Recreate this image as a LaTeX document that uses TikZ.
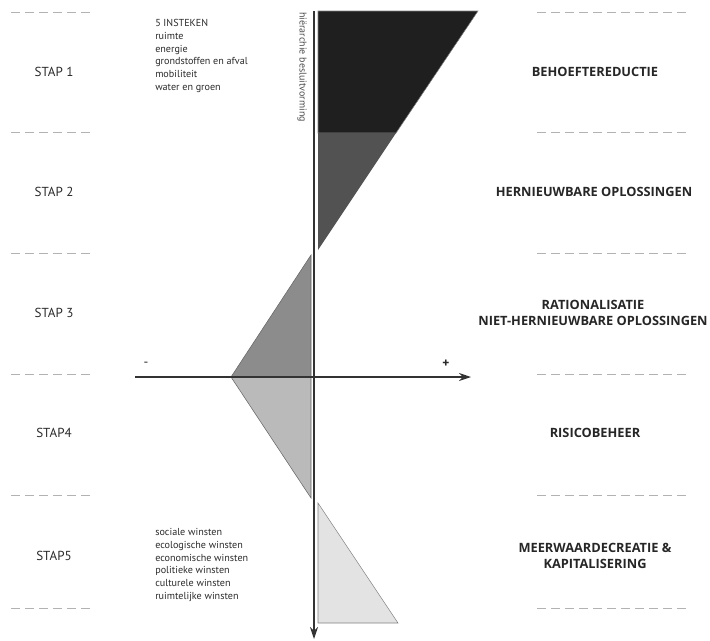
\documentclass[tikz,border=0pt]{standalone}
\usepackage{fontspec}
\setmainfont{PT Sans}
\newfontfamily\fasefont{Open Sans}
\usetikzlibrary{arrows.meta}
\definecolor{txtgray}{HTML}{2A2A2A}
\tikzset{
  sep/.style={draw=black!30, line width=0.6pt, dash pattern=on 6.5pt off 4pt},
  stap/.style={text=txtgray, font=\fontsize{9.8}{11}\selectfont},
  fase/.style={text=black!85, font=\fasefont\bfseries\fontsize{9.6}{12.3}\selectfont, align=center},
  lijst/.style={text=txtgray, font=\fontsize{7.6}{9.6}\selectfont, align=left, anchor=north west, inner sep=0pt},
  as/.style={draw=black!80, line width=0.9pt, -{Stealth[length=9pt,width=6pt]}}
}
\begin{document}
\begin{tikzpicture}[x=0.75pt,y=-0.75pt]
\useasboundingbox (0,0) rectangle (710,640);
\foreach \y in {12,132,253,374,495,608} {
  \draw[sep] (11,\y) -- (90,\y);
  \draw[sep] (537,\y) -- (690,\y);
}
\node[stap] (s1) at (54,72) {STAP 1};
\node[stap] (s2) at (54,192) {STAP 2};
\node[stap] (s3) at (54,313) {STAP 3};
\node[stap] (s4) at (54,433) {STAP4};
\node[stap] (s5) at (54,556) {STAP5};
\node[fase] (f1) at (595,72) {BEHOEFTEREDUCTIE};
\node[fase] (f2) at (594,192) {HERNIEUWBARE OPLOSSINGEN};
\node[fase] (f3) at (593,313) {RATIONALISATIE\\NIET-HERNIEUWBARE OPLOSSINGEN};
\node[fase] (f4) at (595,433) {RISICOBEHEER};
\node[fase] (f5) at (595,556) {MEERWAARDECREATIE \&\\KAPITALISERING};
\node[lijst] (insteken) at (155,19) {5 INSTEKEN\\ruimte\\energie\\grondstoffen en afval\\mobiliteit\\water en groen};
\node[lijst] (winsten) at (155,528) {sociale winsten\\ecologische winsten\\economische winsten\\politieke winsten\\culturele winsten\\ruimtelijke winsten};
\node[text=black!70, font=\fontsize{7.5}{9}\selectfont, rotate=-90, anchor=west, inner sep=0pt] (hier) at (302,12) {hiërarchie besluitvorming};
\filldraw[fill=black!88, draw=black!50, line width=0.4pt] (318,11) -- (478,11) -- (396,133) -- (318,133) -- cycle;
\fill[black!68] (318,133) -- (396,133) -- (318,250) -- cycle;
\filldraw[fill=black!45, draw=black!60, line width=0.4pt] (311,255) -- (231,377) -- (311,377) -- cycle;
\filldraw[fill=black!27, draw=black!60, line width=0.4pt] (231,377) -- (311,377) -- (311,498) -- cycle;
\filldraw[fill=black!11, draw=black!50, line width=0.4pt] (318,503) -- (398,623) -- (318,623) -- cycle;
\coordinate (vtop) at (314,11);
\coordinate (vbot) at (314,639);
\coordinate (hmin) at (135,377);
\coordinate (hplus) at (471,377);
\draw[as] (vtop) -- (vbot);
\draw[as] (hmin) -- (hplus);
\node[text=txtgray, font=\fontsize{10}{12}\selectfont] (min) at (146,364) {-};
\node[text=txtgray, font=\fontsize{10}{12}\selectfont\bfseries] (plus) at (446,364) {+};
\end{tikzpicture}
\end{document}
